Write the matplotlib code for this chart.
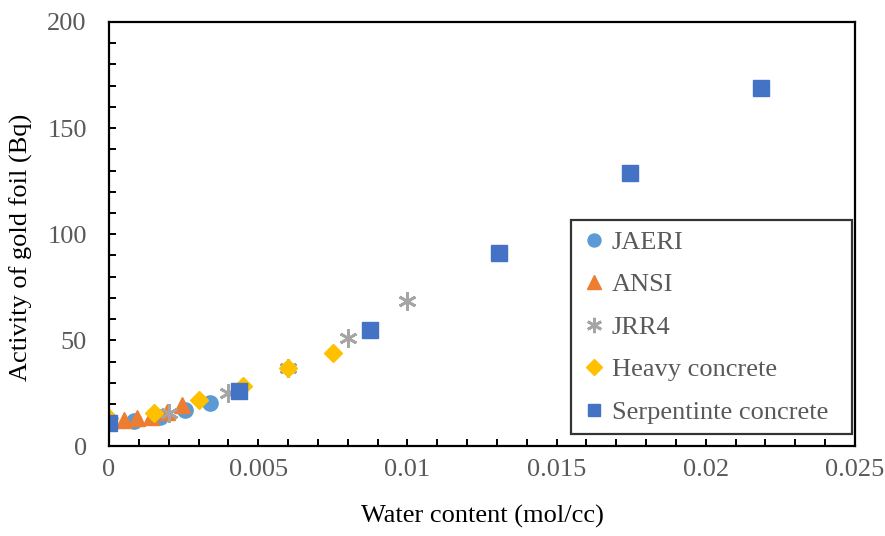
import matplotlib.pyplot as plt
from matplotlib.ticker import MultipleLocator

# Water content (mol/cc) vs activity of gold foil (Bq)
jaeri_x = [0.00085, 0.0017, 0.00255, 0.0034]
jaeri_y = [11.8, 13.7, 17.0, 20.5]

ansi_x = [0.0005, 0.00095, 0.0014, 0.00195, 0.00245]
ansi_y = [12.5, 13.3, 13.8, 16.2, 19.5]

jrr4_x = [0.002, 0.004, 0.006, 0.008, 0.010]
jrr4_y = [16.0, 25.0, 37.0, 51.0, 68.5]

heavy_x = [0.0, 0.0015, 0.003, 0.0045, 0.006, 0.0075]
heavy_y = [13.5, 16.0, 22.0, 28.5, 37.0, 44.0]

serp_x = [0.0, 0.00437, 0.00874, 0.01307, 0.01747, 0.02184]
serp_y = [11.0, 26.0, 55.0, 91.0, 129.0, 169.0]

x_ticks = [0, 0.005, 0.01, 0.015, 0.02, 0.025]
x_labels = ["0", "0.005", "0.01", "0.015", "0.02", "0.025"]
y_ticks = [0, 50, 100, 150, 200]

SERIF = ["Liberation Serif", "DejaVu Serif"]
GRAY = "#595959"
FS = 19


def main():
    plt.rcParams["font.family"] = SERIF
    fig = plt.figure(figsize=(8.85, 5.36), dpi=100)
    ax = fig.add_axes([0.1232, 0.167, 0.8428, 0.792])

    ax.plot(jaeri_x, jaeri_y, "o", ms=11, color="#5B9BD5", label="JAERI")
    ax.plot(ansi_x, ansi_y, "^", ms=12, color="#ED7D31", label="ANSI")
    ax.plot(jrr4_x, jrr4_y, marker=(6, 2, 0), ls="none", ms=13, mew=2,
            color="#A5A5A5", label="JRR4")
    ax.plot(heavy_x, heavy_y, "D", ms=9, color="#FFC000", label="Heavy concrete")
    ax.plot(serp_x, serp_y, "s", ms=11, color="#4472C4", label="Serpentinte concrete")

    ax.set_xlim(0, 0.025)
    ax.set_ylim(0, 200)
    ax.set_xticks(x_ticks)
    ax.set_xticklabels(x_labels)
    ax.set_yticks(y_ticks)
    ax.xaxis.set_minor_locator(MultipleLocator(0.001))
    ax.yaxis.set_minor_locator(MultipleLocator(10))

    for s in ax.spines.values():
        s.set_linewidth(1.6)
        s.set_color("black")
    ax.tick_params(which="both", direction="in", width=1.4, length=5,
                   top=False, right=False, labelsize=FS, labelcolor=GRAY)
    ax.tick_params(axis="x", pad=9)
    ax.tick_params(axis="y", pad=16)

    ax.set_xlabel("Water content (mol/cc)", fontsize=FS, color="black", labelpad=17)
    ax.set_ylabel("Activity of gold foil (Bq)", fontsize=FS, color="black")
    ax.yaxis.set_label_coords(-0.102, 0.468)

    leg = ax.legend(loc="upper left", bbox_to_anchor=(0.619, 0.0, 0.3767, 0.5336),
                    mode="expand", fontsize=FS, frameon=True, fancybox=False,
                    handlelength=1.0, handletextpad=0.15, labelspacing=0.72,
                    borderpad=0.4, borderaxespad=0, numpoints=1, markerscale=0.85)
    frame = leg.get_frame()
    frame.set_edgecolor("black")
    frame.set_linewidth(1.6)
    for t in leg.get_texts():
        t.set_color(GRAY)

    fig.savefig("out.png", dpi=100)


if __name__ == "__main__":
    main()
